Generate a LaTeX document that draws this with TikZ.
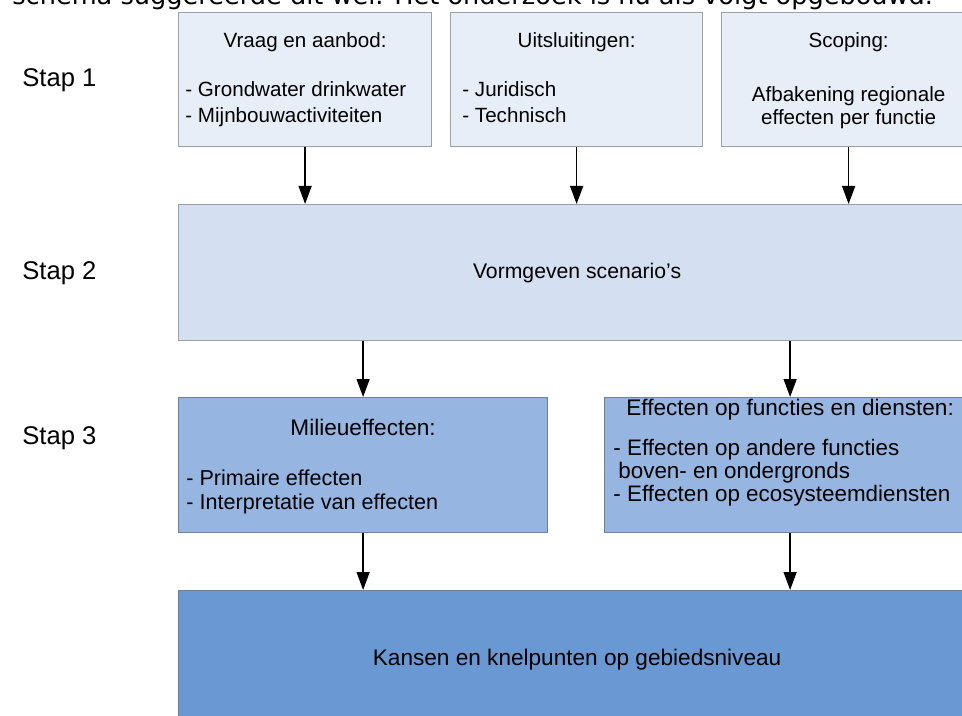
\documentclass[tikz,border=0pt]{standalone}
\usepackage{fontspec}
\setmainfont{Liberation Sans}
\newfontfamily\introfont{DejaVu Sans}
\usetikzlibrary{arrows.meta,positioning}
\definecolor{Edge}{HTML}{9A9FA8}
\definecolor{EdgeDark}{HTML}{70809A}
\definecolor{StepOne}{HTML}{E8EEF8}
\definecolor{StepTwo}{HTML}{D4E0F1}
\definecolor{StepThree}{HTML}{96B6E1}
\definecolor{StepFour}{HTML}{6A98D3}
\tikzset{
  box/.style={draw=Edge,line width=.6pt,anchor=north west,inner sep=0pt,minimum height=67pt},
  head/.style={anchor=base,inner sep=0pt,font=\fontsize{10.3}{13}\selectfont},
  items/.style={anchor=base west,inner sep=0pt,font=\fontsize{10.3}{13}\selectfont},
  stap/.style={anchor=base west,inner sep=0pt,font=\fontsize{12.8}{14}\selectfont},
  flow/.style={-{Triangle[width=6.5pt,length=9pt]},line width=.7pt}
}
\newcommand{\lijst}[1]{\begin{tabular}[t]{@{}l@{}}#1\end{tabular}}
\newcommand{\midden}[1]{\begin{tabular}[t]{@{}c@{}}#1\end{tabular}}

\begin{document}
\begin{tikzpicture}[x=.5pt,y=-.5pt]
\useasboundingbox (0,0) rectangle (962,716);
\node[anchor=base west,inner sep=0pt,font=\introfont\fontsize{12.8}{14}\selectfont] (intro) at (12,5)
  {schema suggereerde dit wel. Het onderzoek is nu als volgt opgebouwd.};

% labels links
\node[stap] (stap1) at (22,87) {Stap 1};
\node[stap] (stap2) at (22,280) {Stap 2};
\node[stap] (stap3) at (22,444) {Stap 3};

% stap 1
\node[box,fill=StepOne,minimum width=126.5pt] (vraag) at (178,12) {};
\node[box,fill=StepOne,minimum width=126pt] (uitsl) at (450,12) {};
\node[box,fill=StepOne,minimum width=127pt] (scoping) at (721,12) {};
\node[head] (vraagkop) at ([yshift=-18pt]vraag.north) {Vraag en aanbod:};
\node[items] (vraaglijst) at ([shift={(3.5pt,-42.5pt)}]vraag.north west)
  {\lijst{- Grondwater drinkwater\\- Mijnbouwactiviteiten}};
\node[head] (uitslkop) at ([yshift=-18pt]uitsl.north) {Uitsluitingen:};
\node[items] (uitsllijst) at ([shift={(6pt,-42.5pt)}]uitsl.north west)
  {\lijst{- Juridisch\\- Technisch}};
\node[head] (scopingkop) at ([yshift=-18pt]scoping.north) {Scoping:};
\node[head,font=\fontsize{10.3}{11.5}\selectfont] (scopingtxt) at ([yshift=-45pt]scoping.north)
  {\midden{Afbakening regionale\\effecten per functie}};

% stap 2
\node[box,fill=StepTwo,minimum width=398.5pt,minimum height=68pt] (scen) at (178,204) {};
\node[head,anchor=center,font=\fontsize{10.6}{12}\selectfont] (scentxt) at (scen.center) {Vormgeven scenario's};

% stap 3
\node[box,draw=EdgeDark,fill=StepThree,minimum width=184.5pt,minimum height=67.5pt] (milieu) at (178,397) {};
\node[box,draw=EdgeDark,fill=StepThree,minimum width=185.5pt,minimum height=67.5pt] (effect) at (604,397) {};
\node[head,font=\fontsize{11.3}{12}\selectfont] (milieukop) at ([yshift=-19pt]milieu.north) {Milieueffecten:};
\node[items,font=\fontsize{10.8}{12}\selectfont] (milieulijst) at ([shift={(4pt,-44pt)}]milieu.north west)
  {\lijst{- Primaire effecten\\- Interpretatie van effecten}};
\node[head,font=\fontsize{11.3}{12}\selectfont] (effectkop) at ([yshift=-9pt]effect.north) {Effecten op functies en diensten:};
\node[items,font=\fontsize{11.2}{11.5}\selectfont] (effectlijst) at ([shift={(4.5pt,-29pt)}]effect.north west)
  {\lijst{- Effecten op andere functies\\\hspace{2.5pt}boven- en ondergronds\\- Effecten op ecosysteemdiensten}};

% resultaat
\node[box,draw=EdgeDark,fill=StepFour,minimum width=398.5pt,minimum height=80pt] (kansen) at (178,590) {};
\node[head,font=\fontsize{11.3}{12}\selectfont] (kansentxt) at ([yshift=-37.5pt]kansen.north) {Kansen en knelpunten op gebiedsniveau};

% pijlen
\draw[flow] (vraag.south) -- (vraag.south |- scen.north);
\draw[flow] (uitsl.south) -- (uitsl.south |- scen.north);
\draw[flow] (scoping.south) -- (scoping.south |- scen.north);
\draw[flow] (milieu.north |- scen.south) -- (milieu.north);
\draw[flow] (effect.north |- scen.south) -- (effect.north);
\draw[flow] (milieu.south) -- (milieu.south |- kansen.north);
\draw[flow] (effect.south) -- (effect.south |- kansen.north);
\end{tikzpicture}
\end{document}
